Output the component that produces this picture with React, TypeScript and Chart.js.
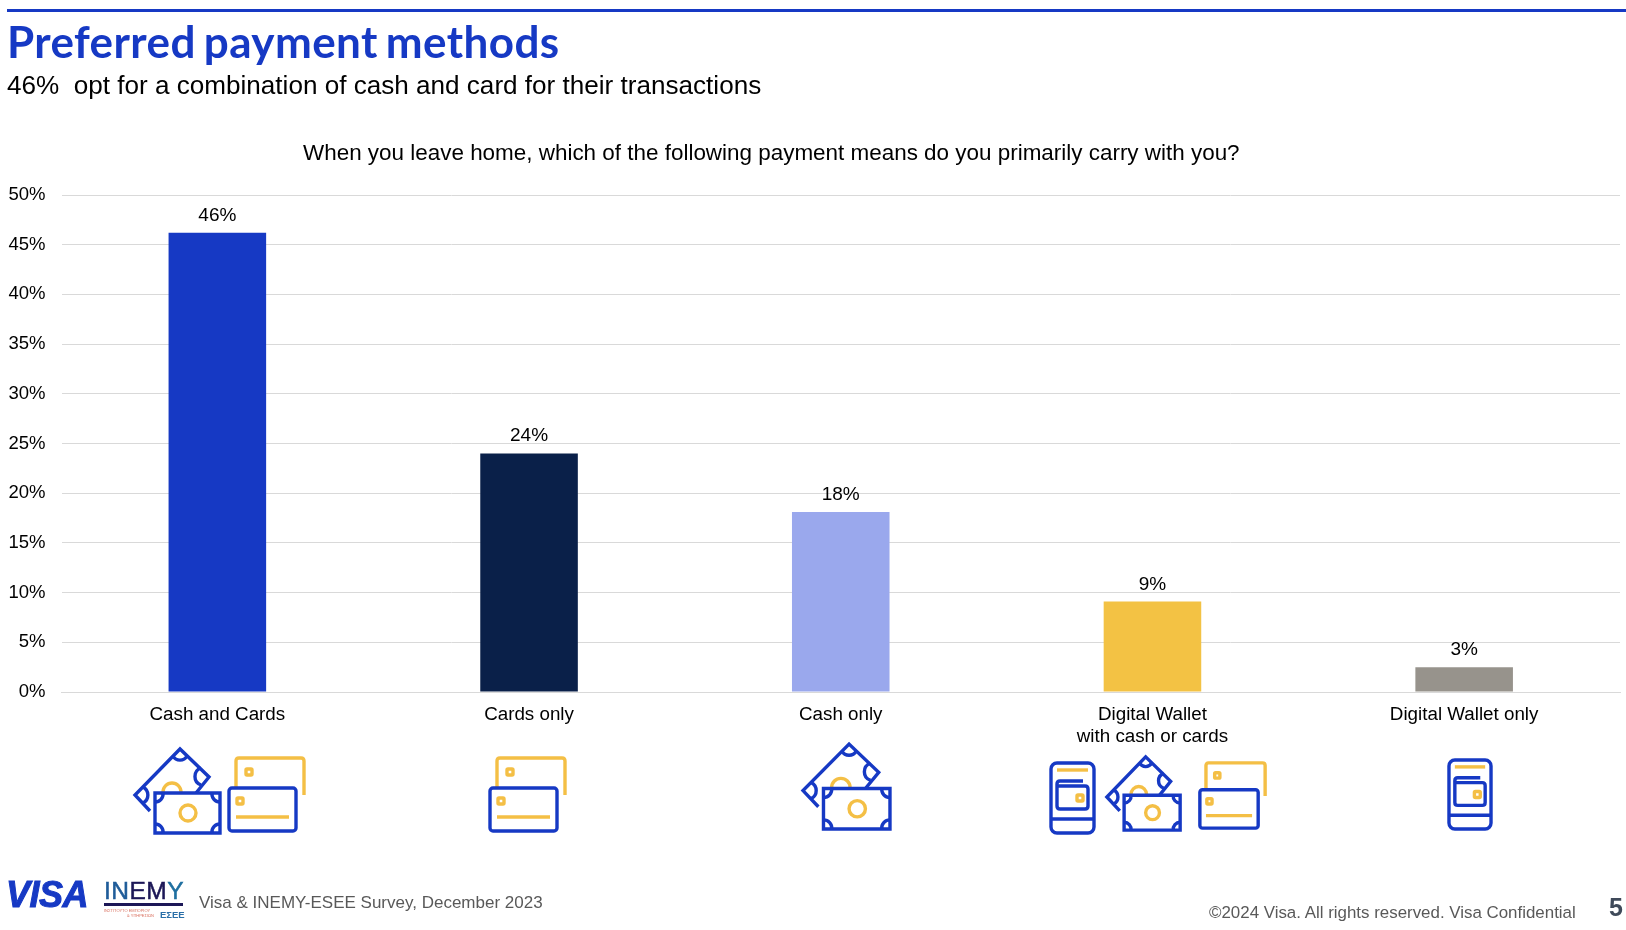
import React, { useEffect, useRef } from "react";
import { Chart, registerables } from "chart.js";

Chart.register(...registerables);

const categories: (string | string[])[] = [
  "Cash and Cards",
  "Cards only",
  "Cash only",
  ["Digital Wallet", "with cash or cards"],
  "Digital Wallet only",
];
const shares = [46.2, 24, 18.1, 9.1, 2.5];
const shareLabels = ["46%", "24%", "18%", "9%", "3%"];
const barColors = ["#1639C4", "#0A2049", "#9AA8ED", "#F3C244", "#97938C"];
const yTicks = [0, 5, 10, 15, 20, 25, 30, 35, 40, 45, 50];

const BLUE = "#1639C4";
const YEL = "#F4BF45";
const SANS = '"Liberation Sans", Arial, sans-serif';

const shareLabelPlugin = {
  id: "shareLabels",
  afterDatasetsDraw(chart: any) {
    const { ctx } = chart;
    const meta = chart.getDatasetMeta(0);
    ctx.save();
    ctx.font = `19px ${SANS}`;
    ctx.fillStyle = "#000";
    ctx.textAlign = "center";
    ctx.textBaseline = "alphabetic";
    meta.data.forEach((bar: any, i: number) => {
      ctx.fillText(shareLabels[i], bar.x, bar.y - 12);
    });
    ctx.restore();
  },
};

type Box = { x: number; y: number; w: number; h: number };

const svgStyle = (b: Box): React.CSSProperties => ({
  position: "absolute",
  left: b.x,
  top: b.y,
  width: b.w,
  height: b.h,
  overflow: "visible",
});

const stroke = (c: string) => ({
  stroke: c,
  strokeWidth: 3.4,
  fill: "none",
  vectorEffect: "non-scaling-stroke" as const,
});

function Money(b: Box) {
  return (
    <svg viewBox="0 0 87 86" preserveAspectRatio="none" style={svgStyle(b)}>
      <path d="M16 63 L1 47 L46 1 L75 29 L62 45" {...stroke(BLUE)} />
      <path d="M39 8 A8 8 0 0 0 53 8" {...stroke(BLUE)} />
      <path d="M67 20 A9 9 0 0 0 67 37" {...stroke(BLUE)} />
      <path d="M9 39 A9 9 0 0 1 9 55" {...stroke(BLUE)} />
      <path d="M29 44 A9 9 0 0 1 47 44" {...stroke(YEL)} />
      <rect x="21" y="45" width="65" height="40" {...stroke(BLUE)} />
      <path d="M21 54 A8 8 0 0 0 29 45 M78 45 A8 8 0 0 0 86 54 M21 76 A8 8 0 0 1 29 85 M78 85 A8 8 0 0 1 86 76" {...stroke(BLUE)} />
      <ellipse cx="54" cy="65" rx="8" ry="8" {...stroke(YEL)} />
    </svg>
  );
}

function CardPair(b: Box) {
  return (
    <svg viewBox="0 0 77 75" preserveAspectRatio="none" style={svgStyle(b)}>
      <path d="M8 30 L8 4 Q8 1 11 1 L73 1 Q76 1 76 4 L76 38" {...stroke(YEL)} />
      <rect x="18" y="12" width="6" height="6" rx="1" {...stroke(YEL)} />
      <rect x="1" y="31" width="67" height="43" rx="3" {...stroke(BLUE)} />
      <rect x="9" y="41" width="6" height="6" rx="1" {...stroke(YEL)} />
      <path d="M8 60 L61 60" {...stroke(YEL)} />
    </svg>
  );
}

function Phone(b: Box) {
  return (
    <svg viewBox="0 0 45 72" preserveAspectRatio="none" style={svgStyle(b)}>
      <rect x="1" y="1" width="43" height="70" rx="6" {...stroke(BLUE)} />
      <path d="M7 8 L38 8" {...stroke(YEL)} />
      <path d="M33 19 L10 19 Q7 19 7 22 L7 44 Q7 47 10 47 L35 47 Q38 47 38 44 L38 27 Q38 24 35 24 L7 24" {...stroke(BLUE)} />
      <rect x="27" y="33" width="6" height="6" rx="1" {...stroke(YEL)} />
      <path d="M1 57 L44 57" {...stroke(BLUE)} />
    </svg>
  );
}

const text = (
  s: string,
  left: number,
  centerY: number,
  size: number,
  color: string,
  extra: React.CSSProperties = {}
) => (
  <div
    style={{
      position: "absolute",
      left,
      top: centerY - size,
      height: size * 2,
      lineHeight: `${size * 2}px`,
      fontSize: size,
      color,
      fontFamily: SANS,
      whiteSpace: "pre",
      ...extra,
    }}
  >
    {s}
  </div>
);

export default function App() {
  const ref = useRef<HTMLCanvasElement>(null);

  useEffect(() => {
    const chart = new Chart(ref.current!, {
      type: "bar",
      data: {
        labels: categories as any,
        datasets: [
          {
            data: shares,
            backgroundColor: barColors,
            barPercentage: 0.313,
            categoryPercentage: 1,
          },
        ],
      },
      options: {
        animation: false,
        responsive: false,
        devicePixelRatio: 1,
        layout: { padding: { top: 195, right: 6, left: 0, bottom: 0 } },
        plugins: { legend: { display: false }, tooltip: { enabled: false } },
        scales: {
          x: {
            grid: { display: false, drawTicks: false },
            border: { color: "#D9D9D9", width: 1 },
            ticks: {
              color: "#000",
              font: { family: SANS, size: 18.8, lineHeight: 1.17 },
              padding: 11.5,
              maxRotation: 0,
              autoSkip: false,
            },
            afterFit(axis: any) {
              axis.height = 238;
            },
          },
          y: {
            min: 0,
            max: 50,
            afterBuildTicks(axis: any) {
              axis.ticks = yTicks.map((value) => ({ value }));
            },
            grid: { color: "#D9D9D9", lineWidth: 1, drawTicks: false },
            border: { display: false },
            ticks: {
              color: "#000",
              font: { family: SANS, size: 18.5 },
              padding: 16,
              align: "center",
              z: 1,
              callback: (v: any) => `${v}%`,
            },
            afterFit(axis: any) {
              axis.width = 61.5;
            },
          },
        },
      } as any,
      plugins: [shareLabelPlugin],
    });
    return () => chart.destroy();
  }, []);

  return (
    <div
      style={{
        position: "fixed",
        left: 0,
        top: 0,
        width: 1626,
        height: 930,
        background: "#fff",
        overflow: "hidden",
      }}
    >
      <canvas
        ref={ref}
        width={1626}
        height={930}
        style={{ position: "absolute", left: 0, top: 0, width: 1626, height: 930 }}
      />
      <div style={{ position: "absolute", left: 7, top: 9, width: 1619, height: 3, background: BLUE }} />
      {text("Preferred payment methods", 7, 41, 44, BLUE, { fontFamily: "Lato", fontWeight: 700, letterSpacing: 0.4, wordSpacing: -3 })}
      {text("46%  opt for a combination of cash and card for their transactions", 7, 85, 26.1, "#000")}
      {text("When you leave home, which of the following payment means do you primarily carry with you?", 303, 153, 22.45, "#000")}

      <Money x={134} y={748} w={87} h={86} />
      <CardPair x={228} y={757} w={77} h={75} />
      <CardPair x={489} y={757} w={77} h={75} />
      <Money x={802} y={743} w={89} h={87} />
      <Phone x={1050} y={762} w={45} h={72} />
      <Money x={1106} y={756} w={75} h={75} />
      <CardPair x={1199} y={762} w={67} h={67} />
      <Phone x={1448} y={759} w={44} h={71} />

      {text("VISA", 6, 895, 36, BLUE, { fontWeight: 700, fontStyle: "italic", letterSpacing: -0.5, WebkitTextStroke: `1px ${BLUE}` })}
      <div style={{ position: "absolute", left: 104, top: 877, fontFamily: SANS, fontSize: 24.5, lineHeight: "27px", letterSpacing: 0.5, whiteSpace: "pre", WebkitTextStroke: "0.5px" }}>
        <span style={{ color: "#1F5C99" }}>IN</span>
        <span style={{ color: "#1C1757" }}>EM</span>
        <span style={{ color: "#1F6FA0" }}>Y</span>
      </div>
      <div style={{ position: "absolute", left: 104, top: 903, width: 79, height: 3, background: "#1C1757" }} />
      {text("ΙΝΣΤΙΤΟΥΤΟ ΕΜΠΟΡΙΟΥ", 104, 911, 4, "#D9705F")}
      {text("& ΥΠΗΡΕΣΙΩΝ", 127, 916, 4, "#D9705F")}
      {text("ΕΣΕΕ", 160, 914, 9.5, "#2A6FA8", { fontWeight: 700 })}
      {text("Visa & INEMY-ESEE Survey, December 2023", 199, 903, 17, "#595959")}
      {text("©2024 Visa. All rights reserved. Visa Confidential", 1209, 913, 16.9, "#595959")}
      {text("5", 1609, 907, 25, "#3F4A5A", { fontWeight: 700 })}
    </div>
  );
}
